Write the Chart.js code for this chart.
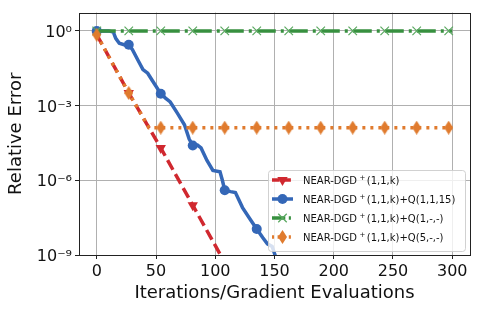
<!DOCTYPE html>
<html>
<head>
<meta charset="utf-8">
<script src="https://cdn.jsdelivr.net/npm/chart.js@4/dist/chart.umd.min.js"></script>
<style>
  html, body { margin: 0; padding: 0; background: #fff; }
  #wrap { width: 480px; height: 309px; position: relative; }
</style>
</head>
<body>
<div id="wrap"><canvas id="chart"></canvas></div>
<script>
// tick values and labels
const xTicks = [0, 50, 100, 150, 200, 250, 300];
const yTicks = [1, 1e-3, 1e-6, 1e-9];
const yTickLabels = ["10⁰", "10⁻³", "10⁻⁶", "10⁻⁹"];

// iterations where markers sit (every 27)
const markerIters = [0, 27, 54, 81, 108, 135, 162, 189, 216, 243, 270, 297];

// NEAR-DGD+(1,1,k)
const redIters = [0, 27, 54, 81, 108];
const redErr = [0.7, 3.2e-3, 2.0e-5, 1.0e-7, 5e-10];

// NEAR-DGD+(1,1,k)+Q(1,1,15)
const blueIters = [0, 10, 14, 16, 19, 23, 27, 30, 35, 39, 43, 47, 54, 58, 62, 68, 74, 78, 81, 85, 88, 93, 98, 104, 106, 108, 113, 117, 123, 130, 135, 140, 144, 148, 152, 155];
const blueErr = [1, 1, 0.89, 0.5, 0.32, 0.28, 0.28, 0.18, 0.063, 0.028, 0.02, 0.01, 3.0e-3, 2.0e-3, 1.4e-3, 5e-4, 1.7e-4, 4.5e-5, 2.5e-5, 2.6e-5, 2.0e-5, 6.3e-6, 2.5e-6, 2.2e-6, 1e-6, 4e-7, 3.5e-7, 3.2e-7, 8e-8, 2.5e-8, 1.1e-8, 5e-9, 2.8e-9, 2.2e-9, 6e-10, 2.5e-10];

// NEAR-DGD+(1,1,k)+Q(1,-,-)
const greenIters = [0, 27, 54, 81, 108, 135, 162, 189, 216, 243, 270, 297, 300];
const greenErr = [1, 1, 1, 1, 1, 1, 1, 1, 1, 1, 1, 1, 1];

// NEAR-DGD+(1,1,k)+Q(5,-,-)
const orangeIters = [0, 27, 44, 54, 81, 108, 135, 162, 189, 216, 243, 270, 297, 300];
const orangeErr = [0.7, 3.2e-3, 1.3e-4, 1.3e-4, 1.3e-4, 1.3e-4, 1.3e-4, 1.3e-4, 1.3e-4, 1.3e-4, 1.3e-4, 1.3e-4, 1.3e-4, 1.3e-4];

const RED = "#d0282f", BLUE = "#3467b7", GREEN = "#37903f", ORANGE = "#e07b2e";

function thinDiamond(color) {
  const c = document.createElement("canvas");
  c.width = 9; c.height = 14;
  const g = c.getContext("2d");
  g.fillStyle = color;
  g.beginPath();
  g.moveTo(4.5, 0); g.lineTo(9, 7); g.lineTo(4.5, 14); g.lineTo(0, 7);
  g.closePath(); g.fill();
  return c;
}
const diamondImg = thinDiamond(ORANGE);

const pts = (xs, ys) => xs.map((x, i) => ({ x, y: ys[i] }));
const radii = (xs, r) => xs.map((x) => (markerIters.includes(x) ? r : 0));

const series = [
  { label: "(1,1,k)", iters: redIters, err: redErr, color: RED, dash: [11, 5], style: "triangle", rot: 180, r: 6, fill: true, order: 4 },
  { label: "(1,1,k)+Q(1,1,15)", iters: blueIters, err: blueErr, color: BLUE, dash: [], style: "circle", rot: 0, r: 5, fill: true, order: 3 },
  { label: "(1,1,k)+Q(1,-,-)", iters: greenIters, err: greenErr, color: GREEN, dash: [19, 5, 3, 5], style: "crossRot", rot: 0, r: 6, fill: false, order: 2 },
  { label: "(1,1,k)+Q(5,-,-)", iters: orangeIters, err: orangeErr, color: ORANGE, dash: [3, 5], style: diamondImg, rot: 0, r: 7, fill: true, order: 1 }
];

const datasets = series.map((s) => ({
  label: s.label,
  data: pts(s.iters, s.err),
  borderColor: s.color,
  backgroundColor: s.color,
  borderWidth: 3.5,
  borderDash: s.dash,
  pointStyle: s.style,
  rotation: s.rot,
  pointRadius: radii(s.iters, s.r),
  pointHoverRadius: radii(s.iters, s.r),
  pointBackgroundColor: s.fill ? s.color : "rgba(0,0,0,0)",
  pointBorderColor: s.fill ? s.color : "#5aa860",
  pointBorderWidth: s.fill ? 0 : 1.2,
  tension: 0,
  fill: false,
  clip: 0,
  order: s.order
}));

const framePlugin = {
  id: "frame",
  afterDatasetsDraw(chart) {
    const { ctx, chartArea: a } = chart;
    ctx.save();
    ctx.strokeStyle = "#222";
    ctx.lineWidth = 1;
    ctx.strokeRect(Math.round(a.left) + 0.5, Math.round(a.top) + 0.5, Math.round(a.right - a.left), Math.round(a.bottom - a.top));
    ctx.restore();

    // legend, lower right
    const bx = 268, by = 170, bw = 197, bh = 81;
    ctx.save();
    ctx.fillStyle = "rgba(255,255,255,0.8)";
    ctx.strokeStyle = "rgba(204,204,204,0.9)";
    ctx.lineWidth = 1;
    ctx.beginPath();
    ctx.roundRect(bx + 0.5, by + 0.5, bw, bh, 3);
    ctx.fill(); ctx.stroke();
    series.forEach((s, i) => {
      const y = 180 + i * 19;
      ctx.strokeStyle = s.color;
      ctx.lineWidth = 3.5;
      ctx.setLineDash(s.dash.length ? s.dash.map((d) => d * 0.7) : []);
      ctx.beginPath();
      ctx.moveTo(272, y); ctx.lineTo(293, y);
      ctx.stroke();
      ctx.setLineDash([]);
      ctx.fillStyle = s.fill ? s.color : "rgba(0,0,0,0)";
      ctx.strokeStyle = s.fill ? s.color : "#5aa860";
      ctx.lineWidth = s.fill ? 0 : 1.2;
      Chart.helpers.drawPoint(ctx, { pointStyle: s.style, rotation: s.rot, radius: s.r, borderWidth: s.fill ? 0 : 1.2 }, 282.5, y);
      ctx.fillStyle = "#111";
      ctx.textBaseline = "alphabetic";
      ctx.font = "10px 'DejaVu Sans'";
      const base = y + 4;
      ctx.fillText("NEAR-DGD", 303, base);
      let x = 303 + ctx.measureText("NEAR-DGD").width + 2.5;
      ctx.font = "7px 'DejaVu Sans'";
      ctx.fillText("+", x, base - 4.5);
      x += ctx.measureText("+").width + 1.5;
      ctx.font = "10px 'DejaVu Sans'";
      ctx.fillText(s.label, x, base);
    });
    ctx.restore();
  }
};

new Chart(document.getElementById("chart"), {
  type: "line",
  data: { datasets },
  plugins: [framePlugin],
  options: {
    responsive: true,
    maintainAspectRatio: false,
    animation: false,
    devicePixelRatio: 1,
    layout: { padding: { top: 10, right: 10, left: 0, bottom: 0 } },
    plugins: { legend: { display: false }, tooltip: { enabled: false } },
    scales: {
      x: {
        type: "linear",
        min: -15,
        max: 315,
        afterBuildTicks: (scale) => { scale.ticks = xTicks.map((v) => ({ value: v })); },
        afterFit: (scale) => { scale.height = 54; },
        grid: { color: "#b0b0b0", lineWidth: 1, drawTicks: true, tickLength: 4, tickColor: "#222", tickWidth: 1 },
        border: { display: false },
        ticks: { color: "#111", font: { family: "DejaVu Sans", size: 16 }, padding: 3, maxRotation: 0, autoSkip: false },
        title: { display: true, text: "Iterations/Gradient Evaluations", color: "#111", font: { family: "DejaVu Sans", size: 18 }, padding: { top: 0, bottom: 5 } }
      },
      y: {
        type: "logarithmic",
        min: 1e-9,
        max: 5.43,
        afterBuildTicks: (scale) => { scale.ticks = yTicks.map((v) => ({ value: v })); },
        afterFit: (scale) => { scale.width = 79; },
        grid: { color: "#b0b0b0", lineWidth: 1, drawTicks: true, tickLength: 4, tickColor: "#222", tickWidth: 1 },
        border: { display: false },
        ticks: {
          color: "#111",
          font: { family: "DejaVu Sans", size: 16 },
          padding: 3,
          labelOffset: 2,
          autoSkip: false,
          callback: (v) => { const i = yTicks.indexOf(v); return i >= 0 ? yTickLabels[i] : ""; }
        },
        title: { display: true, text: "Relative Error", color: "#111", font: { family: "DejaVu Sans", size: 18 }, padding: { top: 6, bottom: 0 } }
      }
    }
  }
});
</script>
</body>
</html>
